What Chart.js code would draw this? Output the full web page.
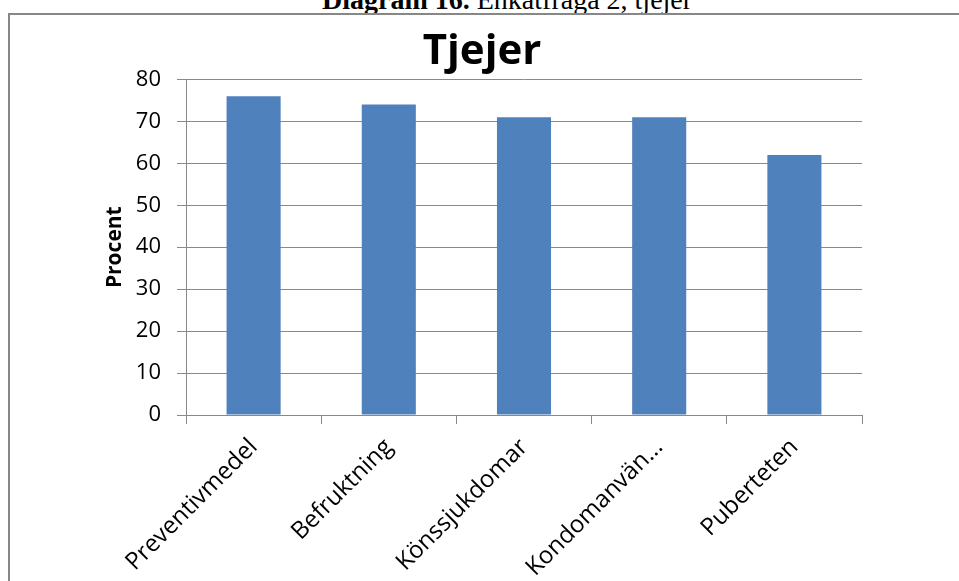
<!DOCTYPE html>
<html>
<head>
<meta charset="utf-8">
<script src="https://cdn.jsdelivr.net/npm/chart.js@4/dist/chart.umd.min.js"></script>
<style>
  html, body { margin: 0; padding: 0; background: #fff; overflow: hidden; }
  #cap {
    position: absolute; left: 322px; top: -14px;
    font-family: "Liberation Serif", "Times New Roman", serif;
    font-size: 28px; line-height: 28px; white-space: nowrap; color: #000;
  }
  #box {
    position: absolute; left: 8px; top: 13px; width: 1000px; height: 1000px;
    border: 2px solid #878787; box-sizing: border-box;
  }
  #wrap { position: absolute; left: 0; top: 0; width: 959px; height: 581px; }
</style>
</head>
<body>
<div id="cap"><b>Diagram 16.</b> Enkätfråga 2, tjejer</div>
<div id="box"></div>
<div id="wrap"><canvas id="chart" width="959" height="581"></canvas></div>
<script>
// values
const categories = ['Preventivmedel', 'Befruktning', 'Könssjukdomar', 'Kondomanvän...', 'Puberteten'];
const procent = [76, 74, 71, 71, 62];
const yTicks = [0, 10, 20, 30, 40, 50, 60, 70, 80];

const gridGrey = '#898989';
Chart.defaults.font.family = '"Open Sans", sans-serif';
Chart.defaults.color = '#000';

new Chart(document.getElementById('chart'), {
    type: 'bar',
    data: {
        labels: categories,
        datasets: [
            {
                label: 'Procent',
                data: procent,
                backgroundColor: '#4f81bd',
                borderWidth: 0,
                barPercentage: 0.8,
                categoryPercentage: 0.5,
            },
        ],
    },
    options: {
        responsive: false,
        animation: false,
        layout: {
            padding: { left: 102, right: 97, top: 13, bottom: 0 },
        },
        plugins: {
            legend: { display: false },
            tooltip: { enabled: false },
            title: {
                display: true,
                text: 'Tjejer',
                color: '#000',
                font: { size: 42, weight: 'bold' },
                padding: { top: 14, bottom: 2 },
            },
        },
        scales: {
            x: {
                grid: {
                    offset: true,
                    drawOnChartArea: false,
                    color: gridGrey,
                    tickLength: 9,
                },
                border: { color: gridGrey },
                ticks: {
                    font: { size: 24 },
                    color: '#000',
                    maxRotation: 45,
                    minRotation: 45,
                    padding: 9,
                },
                afterFit: (scale) => { scale.height = 166; },
            },
            y: {
                min: yTicks[0],
                max: yTicks[yTicks.length - 1],
                afterBuildTicks: (scale) => { scale.ticks = yTicks.map(v => ({ value: v })); },
                grid: {
                    color: gridGrey,
                    tickLength: 9,
                },
                border: { color: gridGrey },
                ticks: {
                    font: { size: 22 },
                    color: '#000',
                    padding: 16,
                },
                title: {
                    display: true,
                    text: 'Procent',
                    color: '#000',
                    font: { size: 21, weight: 'bold' },
                    padding: 0,
                },
                afterFit: (scale) => { scale.width = 84; },
            },
        },
    },
});
</script>
</body>
</html>
